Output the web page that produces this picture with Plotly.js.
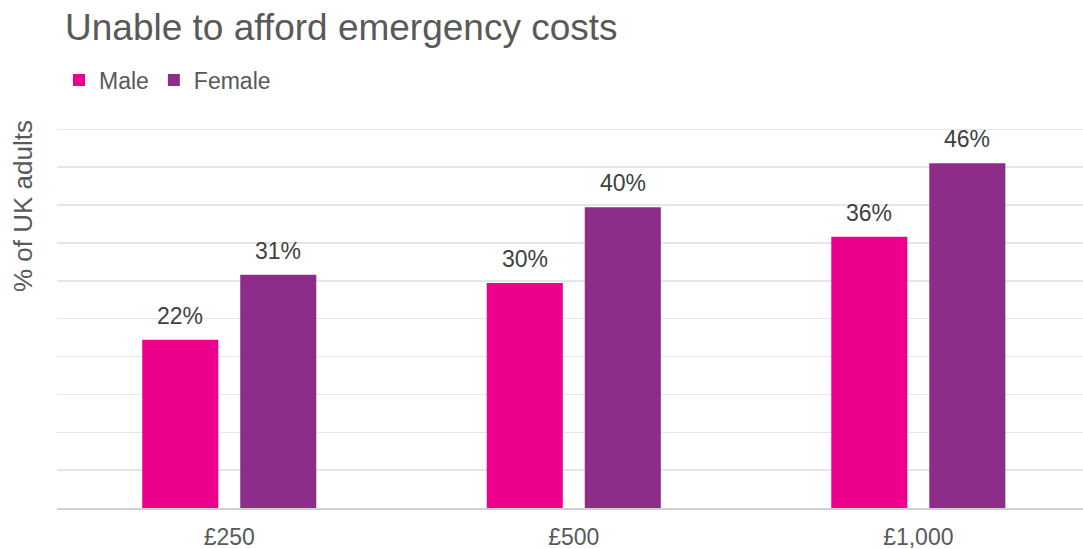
<!DOCTYPE html>
<html>
<head>
<meta charset="utf-8">
<script src="https://cdn.plot.ly/plotly-3.0.1.min.js"></script>
<style>
html,body{margin:0;padding:0;background:#fff;}
#chart{width:1083px;height:549px;}
</style>
</head>
<body>
<div id="chart"></div>
<script>
var categories = ['£250', '£500', '£1,000'];
var maleValues = [22.2, 29.7, 35.8];
var femaleValues = [30.8, 39.7, 45.5];
var seriesNames = ['Male', 'Female'];
var seriesColors = ['#EC008C', '#8E2C8A'];
var chartTitle = 'Unable to afford emergency costs';
var yTitle = '% of UK adults';

var FONT = 'Liberation Sans, Arial, sans-serif';
var xIdx = categories.map(function(c, i){ return i; });

var traces = [maleValues, femaleValues].map(function(vals, s){
  return {
    type: 'bar',
    name: seriesNames[s],
    x: xIdx,
    y: vals,
    marker: {color: seriesColors[s], line: {width: 0}},
    hoverinfo: 'skip'
  };
});

var annotations = [];
[maleValues, femaleValues].forEach(function(vals, s){
  vals.forEach(function(v, i){
    annotations.push({
      x: i, y: v, xref: 'x', yref: 'y',
      text: Math.round(v) + '%',
      showarrow: false,
      xanchor: 'center', yanchor: 'bottom',
      xshift: s === 0 ? -49 : 49,
      yshift: 9,
      font: {family: FONT, size: 23, color: '#404040'}
    });
  });
});
annotations.push({
  xref: 'paper', yref: 'paper',
  x: -0.0331, y: 0.7928,
  text: yTitle, textangle: -90,
  showarrow: false, xanchor: 'center', yanchor: 'middle',
  font: {family: FONT, size: 26, color: '#595959'}
});

var layout = {
  width: 1083, height: 549,
  paper_bgcolor: '#ffffff', plot_bgcolor: '#ffffff',
  margin: {l: 57, r: 0, t: 127, b: 41},
  font: {family: FONT, color: '#595959'},
  title: {
    text: chartTitle,
    font: {family: FONT, size: 37, color: '#595959'},
    x: 65/1083, xanchor: 'left', xref: 'container',
    y: 1 - 27/549, yanchor: 'middle', yref: 'container'
  },
  showlegend: true,
  legend: {
    orientation: 'h',
    xref: 'container', yref: 'container',
    x: 59/1083, xanchor: 'left',
    y: 1 - 80/549, yanchor: 'middle',
    font: {family: FONT, size: 23, color: '#595959'},
    itemclick: false, itemdoubleclick: false,
    tracegroupgap: 0, itemwidth: 30
  },
  barmode: 'group',
  bargap: 0.431,
  bargroupgap: 0.224,
  xaxis: {
    type: 'linear',
    range: [-0.5, 2.478],
    tickmode: 'array',
    tickvals: xIdx,
    ticktext: categories,
    showgrid: false,
    zeroline: false,
    showline: true, linecolor: '#D0D0D0', linewidth: 1.5,
    ticks: 'outside', ticklen: 8, tickcolor: 'rgba(0,0,0,0)',
    tickfont: {family: FONT, size: 23, color: '#595959'},
    fixedrange: true
  },
  yaxis: {
    range: [0, 50.3],
    tickmode: 'linear', tick0: 0, dtick: 5,
    showticklabels: false,
    showgrid: true, gridcolor: '#E6E6E6', gridwidth: 1.5,
    zeroline: false,
    fixedrange: true
  },
  annotations: annotations
};

Plotly.newPlot('chart', traces, layout, {displayModeBar: false, staticPlot: true});
</script>
</body>
</html>
